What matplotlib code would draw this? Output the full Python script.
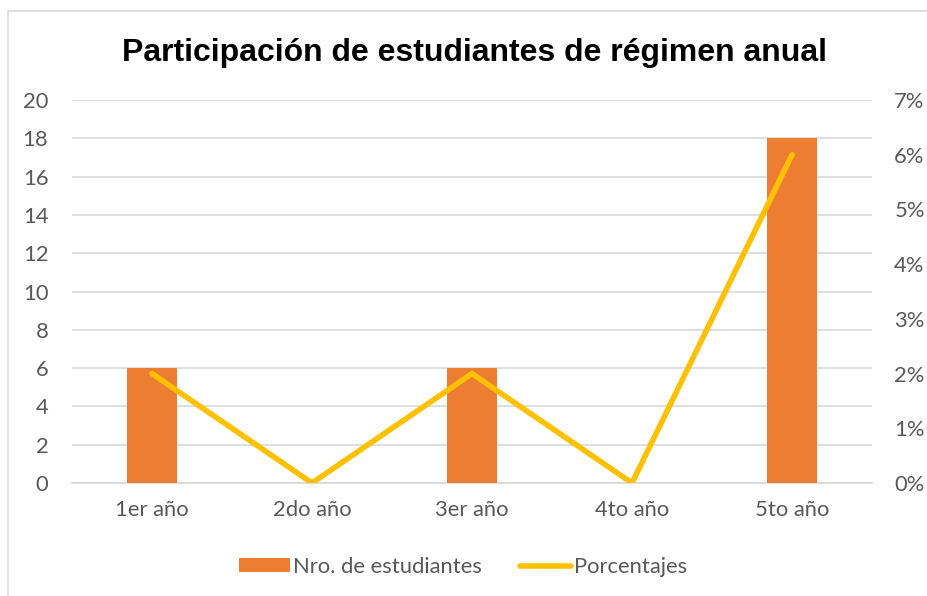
import matplotlib
matplotlib.use("Agg")
import matplotlib.pyplot as plt
from matplotlib.lines import Line2D
from matplotlib.patches import Patch
from matplotlib.ticker import FuncFormatter

categories = ["1er año", "2do año", "3er año", "4to año", "5to año"]
estudiantes = [6, 0, 6, 0, 18]
porcentajes = [2, 0, 2, 0, 6]
left_ticks = list(range(0, 21, 2))
right_ticks = list(range(0, 8))

W, H = 928, 596
fig = plt.figure(figsize=(W / 100, H / 100), dpi=100)
fig.patch.set_facecolor("white")

# chart frame (top and left edges visible)
fig.add_artist(Line2D([7.5 / W, 7.5 / W], [0, 1 - 10.5 / H], transform=fig.transFigure, color="#d9d9d9", lw=1.2))
fig.add_artist(Line2D([7.5 / W, 1], [1 - 10.5 / H, 1 - 10.5 / H], transform=fig.transFigure, color="#d9d9d9", lw=1.2))

x0, x1 = 72, 872
y0, y1 = 483, 100
ax = fig.add_axes([x0 / W, 1 - y0 / H, (x1 - x0) / W, (y0 - y1) / H])
ax2 = ax.twinx()

FS = 15.8
FAM = ["Lato", "DejaVu Sans"]
grey = "#595959"

xs = list(range(len(categories)))
ax.bar(xs, estudiantes, width=0.31, color="#ed7d31", zorder=3)
ax.set_xlim(-0.5, len(categories) - 0.5)
ax.set_ylim(0, 20)
ax.set_yticks(left_ticks)
ax.set_xticks(xs)
ax.set_xticklabels(categories)
ax.grid(axis="y", color="#d9d9d9", lw=1.2, zorder=0)
ax.set_axisbelow(True)
for s in ax.spines.values():
    s.set_visible(False)
ax.spines["bottom"].set_visible(True)
ax.spines["bottom"].set_color("#d9d9d9")
ax.spines["bottom"].set_linewidth(1.2)
ax.tick_params(axis="both", length=0, labelcolor=grey)
ax.tick_params(axis="y", pad=17)
ax.tick_params(axis="x", pad=12)
for lab in ax.get_xticklabels() + ax.get_yticklabels():
    lab.set_fontfamily(FAM)
    lab.set_fontsize(FS)
    lab.set_color(grey)

ax2.plot(xs, porcentajes, color="#ffc000", lw=4, solid_capstyle="round", solid_joinstyle="round", zorder=4)
ax2.set_ylim(0, 7)
ax2.set_yticks(right_ticks)
ax2.yaxis.set_major_formatter(FuncFormatter(lambda v, p: f"{int(v)}%"))
for s in ax2.spines.values():
    s.set_visible(False)
ax2.tick_params(axis="y", length=0, pad=16)
for lab in ax2.get_yticklabels():
    lab.set_fontfamily(FAM)
    lab.set_fontsize(FS)
    lab.set_color(grey)

fig.text(475 / W, 1 - 53 / H, "Participación de estudiantes de régimen anual",
         ha="center", va="center", fontsize=23, fontweight="bold",
         family=["Liberation Sans", "DejaVu Sans"], color="black")

handles = [Patch(facecolor="#ed7d31", edgecolor="none"),
           Line2D([0], [0], color="#ffc000", lw=4, solid_capstyle="round")]
leg = fig.legend(handles, ["Nro. de estudiantes", "Porcentajes"], loc="center",
                 bbox_to_anchor=(463 / W, 1 - 567 / H), ncol=2, frameon=False,
                 prop=dict(family=FAM, size=FS),
                 handlelength=2.3, handleheight=0.6, handletextpad=0.15, columnspacing=1.75)
for t in leg.get_texts():
    t.set_color(grey)

fig.savefig("out.png", dpi=100, facecolor="white")
